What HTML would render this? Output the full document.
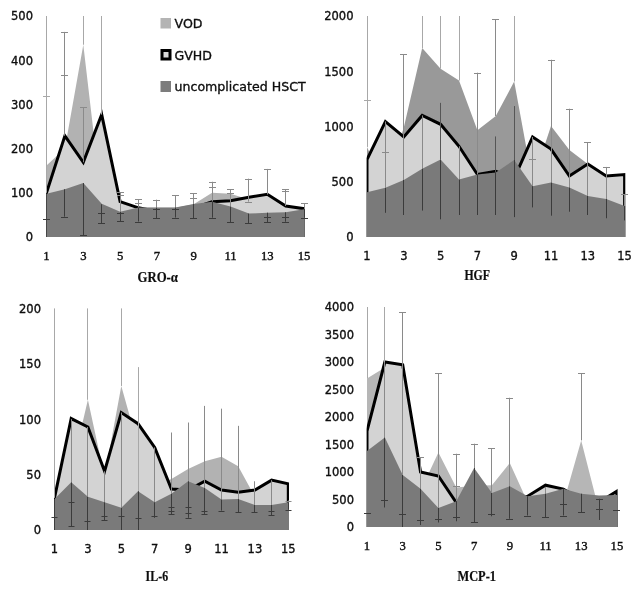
<!DOCTYPE html>
<html><head><meta charset="utf-8"><title>Cytokine charts</title>
<style>
html,body{margin:0;padding:0;background:#fff;}
svg{display:block;}
.t{font-family:"DejaVu Sans","Liberation Sans",sans-serif;font-size:11.5px;fill:#0a0a0a;stroke:#0a0a0a;stroke-width:0.3px;}
.ts{font-family:"Liberation Serif","DejaVu Serif",serif;font-size:12.7px;fill:#0a0a0a;stroke:#0a0a0a;stroke-width:0.35px;}
.lg{font-family:"DejaVu Sans","Liberation Sans",sans-serif;font-size:12.6px;fill:#0a0a0a;stroke:#0a0a0a;stroke-width:0.3px;}
.ti{font-family:"Liberation Serif","DejaVu Serif",serif;font-size:13.8px;font-weight:bold;fill:#111;stroke:#111;stroke-width:0.2px;}
</style></head><body>
<svg width="641" height="592" viewBox="0 0 641 592">
<defs><filter id="soft" x="0" y="0" width="100%" height="100%" filterUnits="userSpaceOnUse"><feGaussianBlur stdDeviation="0.45"/></filter></defs>
<rect width="641" height="592" fill="#fff"/>
<g filter="url(#soft)">
<g id="chart-gro"><path d="M46.5,237 L46.5,165.4 L64.9,148.6 L83.3,44.73 L101.7,201.64 L120.1,210.48 L138.5,207.83 L156.9,207.83 L175.3,207.83 L193.7,204.29 L212.1,192.8 L230.5,193.68 L248.9,199.43 L267.3,210.48 L285.7,212.69 L304.1,210.48 L304.1,237Z" fill="#b2b2b2" />
<path d="M46.5,237 L46.5,192.8 L64.9,135.78 L83.3,162.3 L101.7,114.57 L120.1,201.64 L138.5,207.83 L156.9,211.36 L175.3,211.36 L193.7,207.83 L212.1,201.64 L230.5,200.76 L248.9,197.22 L267.3,194.35 L285.7,206.06 L304.1,208.71 L304.1,237Z" fill="#d3d3d3" />
<clipPath id="clipgr"><rect x="46.1" y="0" width="258.7" height="237"/></clipPath>
<path d="M46.5,237 L46.5,192.8 L64.9,135.78 L83.3,162.3 L101.7,114.57 L120.1,201.64 L138.5,207.83 L156.9,211.36 L175.3,211.36 L193.7,207.83 L212.1,201.64 L230.5,200.76 L248.9,197.22 L267.3,194.35 L285.7,206.06 L304.1,208.71 L304.1,237Z" fill="none" stroke="#000" stroke-width="3" stroke-linejoin="miter" stroke-miterlimit="10" clip-path="url(#clipgr)"/>
<path d="M46.5,237 L46.5,193.68 L64.9,189.26 L83.3,183.08 L101.7,203.85 L120.1,211.81 L138.5,207.61 L156.9,207.61 L175.3,207.39 L193.7,204.07 L212.1,201.64 L230.5,206.5 L248.9,213.57 L267.3,212.69 L285.7,212.25 L304.1,209.15 L304.8,209.15 L304.8,237Z" fill="#7a7a7a" />
<line x1="46.5" y1="16" x2="46.5" y2="192.8" stroke="#a8a8a8" stroke-width="1"/>
<line x1="43" y1="96.5" x2="50" y2="96.5" stroke="#a8a8a8" stroke-width="1"/>
<line x1="43" y1="219.5" x2="50" y2="219.5" stroke="#3a3a3a" stroke-width="1"/>
<line x1="64.5" y1="31.91" x2="64.5" y2="135.78" stroke="#8a8a8a" stroke-width="1"/>
<line x1="61" y1="32.5" x2="68" y2="32.5" stroke="#8a8a8a" stroke-width="1"/>
<line x1="61" y1="75.5" x2="68" y2="75.5" stroke="#8a8a8a" stroke-width="1"/>
<line x1="64.5" y1="189.26" x2="64.5" y2="216.67" stroke="#3a3a3a" stroke-width="1"/>
<line x1="61" y1="217.5" x2="68" y2="217.5" stroke="#3a3a3a" stroke-width="1"/>
<line x1="83.5" y1="16" x2="83.5" y2="44.73" stroke="#a8a8a8" stroke-width="1"/>
<line x1="83.5" y1="107.49" x2="83.5" y2="162.3" stroke="#8a8a8a" stroke-width="1"/>
<line x1="80" y1="107.5" x2="87" y2="107.5" stroke="#8a8a8a" stroke-width="1"/>
<line x1="83.5" y1="183.08" x2="83.5" y2="235.23" stroke="#3a3a3a" stroke-width="1"/>
<line x1="80" y1="235.5" x2="87" y2="235.5" stroke="#3a3a3a" stroke-width="1"/>
<line x1="101.5" y1="16" x2="101.5" y2="114.57" stroke="#a8a8a8" stroke-width="1"/>
<line x1="101.5" y1="204.29" x2="101.5" y2="223.03" stroke="#3a3a3a" stroke-width="1"/>
<line x1="98" y1="213.5" x2="105" y2="213.5" stroke="#3a3a3a" stroke-width="1"/>
<line x1="98" y1="223.5" x2="105" y2="223.5" stroke="#3a3a3a" stroke-width="1"/>
<line x1="120.5" y1="192.36" x2="120.5" y2="211.81" stroke="#8a8a8a" stroke-width="1"/>
<line x1="120.5" y1="211.81" x2="120.5" y2="221.09" stroke="#3a3a3a" stroke-width="1"/>
<line x1="117" y1="192.5" x2="124" y2="192.5" stroke="#8a8a8a" stroke-width="1"/>
<line x1="117" y1="195.5" x2="124" y2="195.5" stroke="#8a8a8a" stroke-width="1"/>
<line x1="117" y1="213.5" x2="124" y2="213.5" stroke="#3a3a3a" stroke-width="1"/>
<line x1="117" y1="221.5" x2="124" y2="221.5" stroke="#3a3a3a" stroke-width="1"/>
<line x1="138.5" y1="199.43" x2="138.5" y2="207.61" stroke="#8a8a8a" stroke-width="1"/>
<line x1="138.5" y1="207.61" x2="138.5" y2="221.53" stroke="#3a3a3a" stroke-width="1"/>
<line x1="135" y1="199.5" x2="142" y2="199.5" stroke="#8a8a8a" stroke-width="1"/>
<line x1="135" y1="203.5" x2="142" y2="203.5" stroke="#8a8a8a" stroke-width="1"/>
<line x1="135" y1="222.5" x2="142" y2="222.5" stroke="#3a3a3a" stroke-width="1"/>
<line x1="156.5" y1="199.65" x2="156.5" y2="207.61" stroke="#8a8a8a" stroke-width="1"/>
<line x1="156.5" y1="207.61" x2="156.5" y2="217.99" stroke="#3a3a3a" stroke-width="1"/>
<line x1="153" y1="200.5" x2="160" y2="200.5" stroke="#8a8a8a" stroke-width="1"/>
<line x1="153" y1="209.5" x2="160" y2="209.5" stroke="#3a3a3a" stroke-width="1"/>
<line x1="153" y1="218.5" x2="160" y2="218.5" stroke="#3a3a3a" stroke-width="1"/>
<line x1="175.5" y1="195.01" x2="175.5" y2="207.39" stroke="#8a8a8a" stroke-width="1"/>
<line x1="175.5" y1="207.39" x2="175.5" y2="217.55" stroke="#3a3a3a" stroke-width="1"/>
<line x1="172" y1="195.5" x2="179" y2="195.5" stroke="#8a8a8a" stroke-width="1"/>
<line x1="172" y1="209.5" x2="179" y2="209.5" stroke="#3a3a3a" stroke-width="1"/>
<line x1="172" y1="218.5" x2="179" y2="218.5" stroke="#3a3a3a" stroke-width="1"/>
<line x1="193.5" y1="193.24" x2="193.5" y2="204.07" stroke="#8a8a8a" stroke-width="1"/>
<line x1="193.5" y1="204.07" x2="193.5" y2="218.44" stroke="#3a3a3a" stroke-width="1"/>
<line x1="190" y1="193.5" x2="197" y2="193.5" stroke="#8a8a8a" stroke-width="1"/>
<line x1="190" y1="198.5" x2="197" y2="198.5" stroke="#8a8a8a" stroke-width="1"/>
<line x1="190" y1="218.5" x2="197" y2="218.5" stroke="#3a3a3a" stroke-width="1"/>
<line x1="212.5" y1="181.75" x2="212.5" y2="201.64" stroke="#8a8a8a" stroke-width="1"/>
<line x1="212.5" y1="201.64" x2="212.5" y2="217.68" stroke="#3a3a3a" stroke-width="1"/>
<line x1="209" y1="182.5" x2="216" y2="182.5" stroke="#8a8a8a" stroke-width="1"/>
<line x1="209" y1="187.5" x2="216" y2="187.5" stroke="#8a8a8a" stroke-width="1"/>
<line x1="209" y1="218.5" x2="216" y2="218.5" stroke="#3a3a3a" stroke-width="1"/>
<line x1="230.5" y1="189.26" x2="230.5" y2="206.5" stroke="#8a8a8a" stroke-width="1"/>
<line x1="230.5" y1="206.5" x2="230.5" y2="222.41" stroke="#3a3a3a" stroke-width="1"/>
<line x1="227" y1="189.5" x2="234" y2="189.5" stroke="#8a8a8a" stroke-width="1"/>
<line x1="227" y1="193.5" x2="234" y2="193.5" stroke="#8a8a8a" stroke-width="1"/>
<line x1="227" y1="222.5" x2="234" y2="222.5" stroke="#3a3a3a" stroke-width="1"/>
<line x1="248.5" y1="178.66" x2="248.5" y2="201.64" stroke="#8a8a8a" stroke-width="1"/>
<line x1="245" y1="179.5" x2="252" y2="179.5" stroke="#8a8a8a" stroke-width="1"/>
<line x1="245" y1="202.5" x2="252" y2="202.5" stroke="#8a8a8a" stroke-width="1"/>
<line x1="248.5" y1="213.57" x2="248.5" y2="223.08" stroke="#3a3a3a" stroke-width="1"/>
<line x1="245" y1="223.5" x2="252" y2="223.5" stroke="#3a3a3a" stroke-width="1"/>
<line x1="267.5" y1="168.93" x2="267.5" y2="194.57" stroke="#8a8a8a" stroke-width="1"/>
<line x1="264" y1="169.5" x2="271" y2="169.5" stroke="#8a8a8a" stroke-width="1"/>
<line x1="267.5" y1="212.69" x2="267.5" y2="222.41" stroke="#3a3a3a" stroke-width="1"/>
<line x1="264" y1="217.5" x2="271" y2="217.5" stroke="#3a3a3a" stroke-width="1"/>
<line x1="264" y1="222.5" x2="271" y2="222.5" stroke="#3a3a3a" stroke-width="1"/>
<line x1="285.5" y1="189.26" x2="285.5" y2="206.06" stroke="#8a8a8a" stroke-width="1"/>
<line x1="282" y1="189.5" x2="289" y2="189.5" stroke="#8a8a8a" stroke-width="1"/>
<line x1="282" y1="191.5" x2="289" y2="191.5" stroke="#8a8a8a" stroke-width="1"/>
<line x1="285.5" y1="212.25" x2="285.5" y2="221.71" stroke="#3a3a3a" stroke-width="1"/>
<line x1="282" y1="217.5" x2="289" y2="217.5" stroke="#3a3a3a" stroke-width="1"/>
<line x1="282" y1="222.5" x2="289" y2="222.5" stroke="#3a3a3a" stroke-width="1"/>
<line x1="304.5" y1="203.41" x2="304.5" y2="209.15" stroke="#8a8a8a" stroke-width="1"/>
<line x1="304.5" y1="209.15" x2="304.5" y2="217.68" stroke="#3a3a3a" stroke-width="1"/>
<line x1="301" y1="203.5" x2="308" y2="203.5" stroke="#8a8a8a" stroke-width="1"/>
<line x1="301" y1="218.5" x2="308" y2="218.5" stroke="#3a3a3a" stroke-width="1"/>
<text x="33" y="241.3" text-anchor="end" class="t">0</text>
<text x="33" y="197.1" text-anchor="end" class="t">100</text>
<text x="33" y="152.9" text-anchor="end" class="t">200</text>
<text x="33" y="108.7" text-anchor="end" class="t">300</text>
<text x="33" y="64.5" text-anchor="end" class="t">400</text>
<text x="33" y="20.3" text-anchor="end" class="t">500</text>
<text x="46.5" y="260.3" text-anchor="middle" class="ts">1</text>
<text x="83.3" y="260.3" text-anchor="middle" class="ts">3</text>
<text x="120.1" y="260.3" text-anchor="middle" class="ts">5</text>
<text x="156.9" y="260.3" text-anchor="middle" class="ts">7</text>
<text x="193.7" y="260.3" text-anchor="middle" class="ts">9</text>
<text x="230.5" y="260.3" text-anchor="middle" class="ts">11</text>
<text x="267.3" y="260.3" text-anchor="middle" class="ts">13</text>
<text x="304.1" y="260.3" text-anchor="middle" class="ts">15</text>
<text x="137.5" y="282.3" textLength="40.5" lengthAdjust="spacingAndGlyphs" class="ti">GRO-α</text></g>
<g id="chart-hgf"><path d="M367,237 L367,146.94 L385.4,187.28 L403.8,127.61 L422.2,48.04 L440.6,68.71 L459,80.53 L477.4,130.37 L495.8,116 L514.2,81.53 L532.6,181.75 L551,125.95 L569.4,150.04 L587.8,164.07 L606.2,192.8 L624.6,209.38 L624.6,237Z" fill="#999999" />
<path d="M367,237 L367,159.65 L385.4,121.53 L403.8,137 L422.2,115.45 L440.6,124.29 L459,146.28 L477.4,174.46 L495.8,171.25 L514.2,178.44 L532.6,137 L551,149.04 L569.4,176 L587.8,164.07 L606.2,176 L624.6,174.57 L624.6,237Z" fill="#d3d3d3" />
<clipPath id="cliphg"><rect x="366.6" y="0" width="258.7" height="237"/></clipPath>
<path d="M367,237 L367,159.65 L385.4,121.53 L403.8,137 L422.2,115.45 L440.6,124.29 L459,146.28 L477.4,174.46 L495.8,171.25 L514.2,178.44 L532.6,137 L551,149.04 L569.4,176 L587.8,164.07 L606.2,176 L624.6,174.57 L624.6,237Z" fill="none" stroke="#000" stroke-width="3" stroke-linejoin="miter" stroke-miterlimit="10" clip-path="url(#cliphg)"/>
<path d="M367,237 L367,192.25 L385.4,187.83 L403.8,179.98 L422.2,168.71 L440.6,159.54 L459,179.54 L477.4,174.46 L495.8,172.47 L514.2,159.98 L532.6,186.17 L551,182.52 L569.4,187.5 L587.8,196 L606.2,198.99 L624.6,206.06 L625.3,206.06 L625.3,237Z" fill="#7a7a7a" />
<line x1="367.5" y1="16" x2="367.5" y2="146.94" stroke="#a8a8a8" stroke-width="1"/>
<line x1="364" y1="100.5" x2="371" y2="100.5" stroke="#a8a8a8" stroke-width="1"/>
<line x1="385.5" y1="121.53" x2="385.5" y2="187.83" stroke="#8a8a8a" stroke-width="1"/>
<line x1="385.5" y1="187.83" x2="385.5" y2="212.8" stroke="#3a3a3a" stroke-width="1"/>
<line x1="382" y1="152.5" x2="389" y2="152.5" stroke="#8a8a8a" stroke-width="1"/>
<line x1="403.5" y1="54.34" x2="403.5" y2="179.98" stroke="#8a8a8a" stroke-width="1"/>
<line x1="403.5" y1="179.98" x2="403.5" y2="215.01" stroke="#3a3a3a" stroke-width="1"/>
<line x1="400" y1="54.5" x2="407" y2="54.5" stroke="#8a8a8a" stroke-width="1"/>
<line x1="422.5" y1="16" x2="422.5" y2="48.04" stroke="#a8a8a8" stroke-width="1"/>
<line x1="422.5" y1="115.45" x2="422.5" y2="168.71" stroke="#8a8a8a" stroke-width="1"/>
<line x1="422.5" y1="168.71" x2="422.5" y2="210.59" stroke="#3a3a3a" stroke-width="1"/>
<line x1="440.5" y1="16" x2="440.5" y2="68.71" stroke="#a8a8a8" stroke-width="1"/>
<line x1="440.5" y1="102.85" x2="440.5" y2="159.54" stroke="#555" stroke-width="1"/>
<line x1="440.5" y1="159.54" x2="440.5" y2="219.32" stroke="#3a3a3a" stroke-width="1"/>
<line x1="459.5" y1="16" x2="459.5" y2="80.53" stroke="#a8a8a8" stroke-width="1"/>
<line x1="459.5" y1="146.28" x2="459.5" y2="179.54" stroke="#8a8a8a" stroke-width="1"/>
<line x1="459.5" y1="179.54" x2="459.5" y2="215.01" stroke="#3a3a3a" stroke-width="1"/>
<line x1="477.5" y1="72.69" x2="477.5" y2="174.46" stroke="#8a8a8a" stroke-width="1"/>
<line x1="477.5" y1="174.46" x2="477.5" y2="215.01" stroke="#3a3a3a" stroke-width="1"/>
<line x1="474" y1="73.5" x2="481" y2="73.5" stroke="#8a8a8a" stroke-width="1"/>
<line x1="495.5" y1="19.2" x2="495.5" y2="116" stroke="#8a8a8a" stroke-width="1"/>
<line x1="492" y1="19.5" x2="499" y2="19.5" stroke="#8a8a8a" stroke-width="1"/>
<line x1="495.5" y1="136.44" x2="495.5" y2="172.47" stroke="#555" stroke-width="1"/>
<line x1="495.5" y1="172.47" x2="495.5" y2="215.01" stroke="#3a3a3a" stroke-width="1"/>
<line x1="514.5" y1="16" x2="514.5" y2="81.53" stroke="#a8a8a8" stroke-width="1"/>
<line x1="514.5" y1="106.06" x2="514.5" y2="159.98" stroke="#555" stroke-width="1"/>
<line x1="514.5" y1="159.98" x2="514.5" y2="217.11" stroke="#3a3a3a" stroke-width="1"/>
<line x1="532.5" y1="137" x2="532.5" y2="186.17" stroke="#8a8a8a" stroke-width="1"/>
<line x1="532.5" y1="186.17" x2="532.5" y2="207.39" stroke="#3a3a3a" stroke-width="1"/>
<line x1="529" y1="159.5" x2="536" y2="159.5" stroke="#8a8a8a" stroke-width="1"/>
<line x1="551.5" y1="59.76" x2="551.5" y2="182.52" stroke="#8a8a8a" stroke-width="1"/>
<line x1="551.5" y1="182.52" x2="551.5" y2="215.67" stroke="#3a3a3a" stroke-width="1"/>
<line x1="548" y1="60.5" x2="555" y2="60.5" stroke="#8a8a8a" stroke-width="1"/>
<line x1="569.5" y1="108.71" x2="569.5" y2="187.5" stroke="#8a8a8a" stroke-width="1"/>
<line x1="569.5" y1="187.5" x2="569.5" y2="211.7" stroke="#3a3a3a" stroke-width="1"/>
<line x1="566" y1="109.5" x2="573" y2="109.5" stroke="#8a8a8a" stroke-width="1"/>
<line x1="587.5" y1="142.3" x2="587.5" y2="196" stroke="#8a8a8a" stroke-width="1"/>
<line x1="587.5" y1="196" x2="587.5" y2="215.01" stroke="#3a3a3a" stroke-width="1"/>
<line x1="584" y1="142.5" x2="591" y2="142.5" stroke="#8a8a8a" stroke-width="1"/>
<line x1="606.5" y1="166.94" x2="606.5" y2="198.99" stroke="#8a8a8a" stroke-width="1"/>
<line x1="606.5" y1="198.99" x2="606.5" y2="218.22" stroke="#3a3a3a" stroke-width="1"/>
<line x1="603" y1="167.5" x2="610" y2="167.5" stroke="#8a8a8a" stroke-width="1"/>
<line x1="624.5" y1="194.24" x2="624.5" y2="206.06" stroke="#8a8a8a" stroke-width="1"/>
<line x1="624.5" y1="206.06" x2="624.5" y2="220.43" stroke="#3a3a3a" stroke-width="1"/>
<line x1="621" y1="194.5" x2="628" y2="194.5" stroke="#8a8a8a" stroke-width="1"/>
<text x="353.5" y="241.3" text-anchor="end" class="t">0</text>
<text x="353.5" y="186.05" text-anchor="end" class="t">500</text>
<text x="353.5" y="130.8" text-anchor="end" class="t">1000</text>
<text x="353.5" y="75.55" text-anchor="end" class="t">1500</text>
<text x="353.5" y="20.3" text-anchor="end" class="t">2000</text>
<text x="367" y="260.3" text-anchor="middle" class="t">1</text>
<text x="403.8" y="260.3" text-anchor="middle" class="t">3</text>
<text x="440.6" y="260.3" text-anchor="middle" class="t">5</text>
<text x="477.4" y="260.3" text-anchor="middle" class="t">7</text>
<text x="514.2" y="260.3" text-anchor="middle" class="t">9</text>
<text x="551" y="260.3" text-anchor="middle" class="t">11</text>
<text x="587.8" y="260.3" text-anchor="middle" class="t">13</text>
<text x="624.6" y="260.3" text-anchor="middle" class="t">15</text>
<text x="464.4" y="279.6" textLength="25.6" lengthAdjust="spacingAndGlyphs" class="ti">HGF</text></g>
<g id="chart-il6"><path d="M54.5,530 L54.5,496.76 L71.2,471.28 L87.9,399.81 L104.6,476.82 L121.3,385.96 L138,445.79 L154.7,485.68 L171.4,479.03 L188.1,469.06 L204.8,461.3 L221.5,456.87 L238.2,466.29 L254.9,496.76 L271.6,502.3 L288.3,502.3 L288.3,530Z" fill="#b2b2b2" />
<path d="M54.5,530 L54.5,497.87 L71.2,418.54 L87.9,426.96 L104.6,471.28 L121.3,412.55 L138,423.63 L154.7,447.45 L171.4,489 L188.1,490.11 L204.8,481.25 L221.5,490.11 L238.2,492.33 L254.9,490.11 L271.6,480.14 L288.3,483.8 L288.3,530Z" fill="#d3d3d3" />
<clipPath id="clipil"><rect x="54.1" y="0" width="234.9" height="530"/></clipPath>
<path d="M54.5,530 L54.5,497.87 L71.2,418.54 L87.9,426.96 L104.6,471.28 L121.3,412.55 L138,423.63 L154.7,447.45 L171.4,489 L188.1,490.11 L204.8,481.25 L221.5,490.11 L238.2,492.33 L254.9,490.11 L271.6,480.14 L288.3,483.8 L288.3,530Z" fill="none" stroke="#000" stroke-width="3" stroke-linejoin="miter" stroke-miterlimit="10" clip-path="url(#clipil)"/>
<path d="M54.5,530 L54.5,498.98 L71.2,482.36 L87.9,496.76 L104.6,502.3 L121.3,507.84 L138,491.22 L154.7,502.3 L171.4,493.77 L188.1,481.25 L204.8,487.9 L221.5,499.53 L238.2,498.98 L254.9,505.07 L271.6,505.07 L288.3,502.3 L289,502.3 L289,530Z" fill="#7a7a7a" />
<line x1="54.5" y1="308.4" x2="54.5" y2="497.87" stroke="#a8a8a8" stroke-width="1"/>
<line x1="51.5" y1="517.5" x2="57.5" y2="517.5" stroke="#3a3a3a" stroke-width="1"/>
<line x1="71.5" y1="419.2" x2="71.5" y2="482.36" stroke="#8a8a8a" stroke-width="1"/>
<line x1="71.5" y1="482.36" x2="71.5" y2="526.01" stroke="#3a3a3a" stroke-width="1"/>
<line x1="68.5" y1="502.5" x2="74.5" y2="502.5" stroke="#3a3a3a" stroke-width="1"/>
<line x1="68.5" y1="526.5" x2="74.5" y2="526.5" stroke="#3a3a3a" stroke-width="1"/>
<line x1="87.5" y1="308.4" x2="87.5" y2="399.81" stroke="#a8a8a8" stroke-width="1"/>
<line x1="87.5" y1="426.96" x2="87.5" y2="496.76" stroke="#8a8a8a" stroke-width="1"/>
<line x1="87.5" y1="496.76" x2="87.5" y2="530" stroke="#3a3a3a" stroke-width="1"/>
<line x1="84.5" y1="521.5" x2="90.5" y2="521.5" stroke="#3a3a3a" stroke-width="1"/>
<line x1="104.5" y1="471.28" x2="104.5" y2="502.3" stroke="#8a8a8a" stroke-width="1"/>
<line x1="104.5" y1="502.3" x2="104.5" y2="520.03" stroke="#3a3a3a" stroke-width="1"/>
<line x1="101.5" y1="516.5" x2="107.5" y2="516.5" stroke="#3a3a3a" stroke-width="1"/>
<line x1="101.5" y1="520.5" x2="107.5" y2="520.5" stroke="#3a3a3a" stroke-width="1"/>
<line x1="121.5" y1="308.4" x2="121.5" y2="385.96" stroke="#a8a8a8" stroke-width="1"/>
<line x1="121.5" y1="412.55" x2="121.5" y2="507.84" stroke="#8a8a8a" stroke-width="1"/>
<line x1="121.5" y1="507.84" x2="121.5" y2="530" stroke="#3a3a3a" stroke-width="1"/>
<line x1="118.5" y1="516.5" x2="124.5" y2="516.5" stroke="#3a3a3a" stroke-width="1"/>
<line x1="138.5" y1="367.12" x2="138.5" y2="491.22" stroke="#a8a8a8" stroke-width="1"/>
<line x1="138.5" y1="491.22" x2="138.5" y2="530" stroke="#3a3a3a" stroke-width="1"/>
<line x1="135.5" y1="518.5" x2="141.5" y2="518.5" stroke="#3a3a3a" stroke-width="1"/>
<line x1="154.5" y1="447.45" x2="154.5" y2="502.3" stroke="#8a8a8a" stroke-width="1"/>
<line x1="154.5" y1="502.3" x2="154.5" y2="517.81" stroke="#3a3a3a" stroke-width="1"/>
<line x1="151.5" y1="516.5" x2="157.5" y2="516.5" stroke="#3a3a3a" stroke-width="1"/>
<line x1="171.5" y1="432.5" x2="171.5" y2="493.77" stroke="#8a8a8a" stroke-width="1"/>
<line x1="171.5" y1="493.77" x2="171.5" y2="514.49" stroke="#3a3a3a" stroke-width="1"/>
<line x1="168.5" y1="507.5" x2="174.5" y2="507.5" stroke="#3a3a3a" stroke-width="1"/>
<line x1="168.5" y1="511.5" x2="174.5" y2="511.5" stroke="#3a3a3a" stroke-width="1"/>
<line x1="168.5" y1="514.5" x2="174.5" y2="514.5" stroke="#3a3a3a" stroke-width="1"/>
<line x1="188.5" y1="422.52" x2="188.5" y2="481.25" stroke="#8a8a8a" stroke-width="1"/>
<line x1="188.5" y1="481.25" x2="188.5" y2="517.81" stroke="#3a3a3a" stroke-width="1"/>
<line x1="185.5" y1="507.5" x2="191.5" y2="507.5" stroke="#3a3a3a" stroke-width="1"/>
<line x1="185.5" y1="513.5" x2="191.5" y2="513.5" stroke="#3a3a3a" stroke-width="1"/>
<line x1="185.5" y1="518.5" x2="191.5" y2="518.5" stroke="#3a3a3a" stroke-width="1"/>
<line x1="204.5" y1="405.9" x2="204.5" y2="487.9" stroke="#8a8a8a" stroke-width="1"/>
<line x1="204.5" y1="487.9" x2="204.5" y2="513.93" stroke="#3a3a3a" stroke-width="1"/>
<line x1="201.5" y1="511.5" x2="207.5" y2="511.5" stroke="#3a3a3a" stroke-width="1"/>
<line x1="201.5" y1="514.5" x2="207.5" y2="514.5" stroke="#3a3a3a" stroke-width="1"/>
<line x1="221.5" y1="408.67" x2="221.5" y2="499.53" stroke="#8a8a8a" stroke-width="1"/>
<line x1="221.5" y1="499.53" x2="221.5" y2="510.61" stroke="#3a3a3a" stroke-width="1"/>
<line x1="218.5" y1="511.5" x2="224.5" y2="511.5" stroke="#3a3a3a" stroke-width="1"/>
<line x1="238.5" y1="425.85" x2="238.5" y2="498.98" stroke="#8a8a8a" stroke-width="1"/>
<line x1="238.5" y1="498.98" x2="238.5" y2="512.27" stroke="#3a3a3a" stroke-width="1"/>
<line x1="235.5" y1="512.5" x2="241.5" y2="512.5" stroke="#3a3a3a" stroke-width="1"/>
<line x1="254.5" y1="481.25" x2="254.5" y2="505.07" stroke="#8a8a8a" stroke-width="1"/>
<line x1="254.5" y1="505.07" x2="254.5" y2="512.27" stroke="#3a3a3a" stroke-width="1"/>
<line x1="251.5" y1="512.5" x2="257.5" y2="512.5" stroke="#3a3a3a" stroke-width="1"/>
<line x1="271.5" y1="480.14" x2="271.5" y2="505.07" stroke="#8a8a8a" stroke-width="1"/>
<line x1="271.5" y1="505.07" x2="271.5" y2="515.04" stroke="#3a3a3a" stroke-width="1"/>
<line x1="268.5" y1="511.5" x2="274.5" y2="511.5" stroke="#3a3a3a" stroke-width="1"/>
<line x1="268.5" y1="515.5" x2="274.5" y2="515.5" stroke="#3a3a3a" stroke-width="1"/>
<line x1="288.5" y1="500.53" x2="288.5" y2="502.3" stroke="#8a8a8a" stroke-width="1"/>
<line x1="288.5" y1="502.3" x2="288.5" y2="509.72" stroke="#3a3a3a" stroke-width="1"/>
<line x1="285.5" y1="501.5" x2="291.5" y2="501.5" stroke="#8a8a8a" stroke-width="1"/>
<line x1="285.5" y1="510.5" x2="291.5" y2="510.5" stroke="#3a3a3a" stroke-width="1"/>
<text x="41" y="534.3" text-anchor="end" class="t">0</text>
<text x="41" y="478.9" text-anchor="end" class="t">50</text>
<text x="41" y="423.5" text-anchor="end" class="t">100</text>
<text x="41" y="368.1" text-anchor="end" class="t">150</text>
<text x="41" y="312.7" text-anchor="end" class="t">200</text>
<text x="54.5" y="553.2" text-anchor="middle" class="t">1</text>
<text x="87.9" y="553.2" text-anchor="middle" class="t">3</text>
<text x="121.3" y="553.2" text-anchor="middle" class="t">5</text>
<text x="154.7" y="553.2" text-anchor="middle" class="t">7</text>
<text x="188.1" y="553.2" text-anchor="middle" class="t">9</text>
<text x="221.5" y="553.2" text-anchor="middle" class="t">11</text>
<text x="254.9" y="553.2" text-anchor="middle" class="t">13</text>
<text x="288.3" y="553.2" text-anchor="middle" class="t">15</text>
<text x="145.6" y="580.7" textLength="22.5" lengthAdjust="spacingAndGlyphs" class="ti">IL-6</text></g>
<g id="chart-mcp1"><path d="M367,527 L367,378.5 L384.85,367.5 L402.7,417 L420.55,490.7 L438.4,452.48 L456.25,487.51 L474.1,485.75 L491.95,485.2 L509.8,462.98 L527.65,502.25 L545.5,496.2 L563.35,503.35 L581.2,440.38 L599.05,510.5 L616.9,505 L616.9,527Z" fill="#b6b6b6" />
<path d="M367,527 L367,431.02 L384.85,362 L402.7,364.75 L420.55,472 L438.4,476.01 L456.25,502.52 L474.1,499.5 L491.95,499.5 L509.8,499.5 L527.65,496.2 L545.5,485.2 L563.35,489.05 L581.2,499.5 L599.05,502.25 L616.9,491.25 L616.9,527Z" fill="#d3d3d3" />
<clipPath id="clipmc"><rect x="366.6" y="0" width="251" height="527"/></clipPath>
<path d="M367,527 L367,431.02 L384.85,362 L402.7,364.75 L420.55,472 L438.4,476.01 L456.25,502.52 L474.1,499.5 L491.95,499.5 L509.8,499.5 L527.65,496.2 L545.5,485.2 L563.35,489.05 L581.2,499.5 L599.05,502.25 L616.9,491.25 L616.9,527Z" fill="none" stroke="#000" stroke-width="3" stroke-linejoin="miter" stroke-miterlimit="10" clip-path="url(#clipmc)"/>
<path d="M367,527 L367,451.1 L384.85,437.51 L402.7,475.02 L420.55,488.77 L438.4,508.02 L456.25,501.15 L474.1,467.99 L491.95,493.01 L509.8,486.3 L527.65,496.2 L545.5,493.73 L563.35,488.77 L581.2,493.73 L599.05,495.49 L616.9,495.1 L617.6,495.1 L617.6,527Z" fill="#7a7a7a" />
<line x1="367.5" y1="307" x2="367.5" y2="378.5" stroke="#a8a8a8" stroke-width="1"/>
<line x1="364" y1="513.5" x2="371" y2="513.5" stroke="#3a3a3a" stroke-width="1"/>
<line x1="384.5" y1="307" x2="384.5" y2="362" stroke="#a8a8a8" stroke-width="1"/>
<line x1="384.5" y1="362" x2="384.5" y2="437.51" stroke="#8a8a8a" stroke-width="1"/>
<line x1="384.5" y1="437.51" x2="384.5" y2="507.48" stroke="#3a3a3a" stroke-width="1"/>
<line x1="381" y1="500.5" x2="388" y2="500.5" stroke="#3a3a3a" stroke-width="1"/>
<line x1="402.5" y1="312.23" x2="402.5" y2="475.02" stroke="#8a8a8a" stroke-width="1"/>
<line x1="402.5" y1="475.02" x2="402.5" y2="527" stroke="#3a3a3a" stroke-width="1"/>
<line x1="399" y1="312.5" x2="406" y2="312.5" stroke="#8a8a8a" stroke-width="1"/>
<line x1="399" y1="514.5" x2="406" y2="514.5" stroke="#3a3a3a" stroke-width="1"/>
<line x1="420.5" y1="457.48" x2="420.5" y2="488.77" stroke="#8a8a8a" stroke-width="1"/>
<line x1="420.5" y1="488.77" x2="420.5" y2="525.02" stroke="#3a3a3a" stroke-width="1"/>
<line x1="417" y1="457.5" x2="424" y2="457.5" stroke="#8a8a8a" stroke-width="1"/>
<line x1="417" y1="520.5" x2="424" y2="520.5" stroke="#3a3a3a" stroke-width="1"/>
<line x1="438.5" y1="373" x2="438.5" y2="508.02" stroke="#8a8a8a" stroke-width="1"/>
<line x1="438.5" y1="508.02" x2="438.5" y2="522.49" stroke="#3a3a3a" stroke-width="1"/>
<line x1="435" y1="373.5" x2="442" y2="373.5" stroke="#8a8a8a" stroke-width="1"/>
<line x1="435" y1="519.5" x2="442" y2="519.5" stroke="#3a3a3a" stroke-width="1"/>
<line x1="456.5" y1="453.74" x2="456.5" y2="501.15" stroke="#8a8a8a" stroke-width="1"/>
<line x1="456.5" y1="501.15" x2="456.5" y2="521.23" stroke="#3a3a3a" stroke-width="1"/>
<line x1="453" y1="454.5" x2="460" y2="454.5" stroke="#8a8a8a" stroke-width="1"/>
<line x1="453" y1="486.5" x2="460" y2="486.5" stroke="#8a8a8a" stroke-width="1"/>
<line x1="453" y1="517.5" x2="460" y2="517.5" stroke="#3a3a3a" stroke-width="1"/>
<line x1="474.5" y1="443.73" x2="474.5" y2="467.99" stroke="#8a8a8a" stroke-width="1"/>
<line x1="474.5" y1="467.99" x2="474.5" y2="522.05" stroke="#3a3a3a" stroke-width="1"/>
<line x1="471" y1="444.5" x2="478" y2="444.5" stroke="#8a8a8a" stroke-width="1"/>
<line x1="471" y1="522.5" x2="478" y2="522.5" stroke="#3a3a3a" stroke-width="1"/>
<line x1="491.5" y1="448.35" x2="491.5" y2="493.01" stroke="#8a8a8a" stroke-width="1"/>
<line x1="491.5" y1="493.01" x2="491.5" y2="516.27" stroke="#3a3a3a" stroke-width="1"/>
<line x1="488" y1="448.5" x2="495" y2="448.5" stroke="#8a8a8a" stroke-width="1"/>
<line x1="488" y1="514.5" x2="495" y2="514.5" stroke="#3a3a3a" stroke-width="1"/>
<line x1="509.5" y1="397.75" x2="509.5" y2="486.3" stroke="#8a8a8a" stroke-width="1"/>
<line x1="509.5" y1="486.3" x2="509.5" y2="518.75" stroke="#3a3a3a" stroke-width="1"/>
<line x1="506" y1="398.5" x2="513" y2="398.5" stroke="#8a8a8a" stroke-width="1"/>
<line x1="506" y1="519.5" x2="513" y2="519.5" stroke="#3a3a3a" stroke-width="1"/>
<line x1="527.5" y1="496.2" x2="527.5" y2="515.5" stroke="#3a3a3a" stroke-width="1"/>
<line x1="524" y1="516.5" x2="531" y2="516.5" stroke="#3a3a3a" stroke-width="1"/>
<line x1="545.5" y1="486.85" x2="545.5" y2="493.73" stroke="#8a8a8a" stroke-width="1"/>
<line x1="545.5" y1="493.73" x2="545.5" y2="517.49" stroke="#3a3a3a" stroke-width="1"/>
<line x1="542" y1="517.5" x2="549" y2="517.5" stroke="#3a3a3a" stroke-width="1"/>
<line x1="563.5" y1="488.77" x2="563.5" y2="515.5" stroke="#3a3a3a" stroke-width="1"/>
<line x1="560" y1="504.5" x2="567" y2="504.5" stroke="#3a3a3a" stroke-width="1"/>
<line x1="560" y1="516.5" x2="567" y2="516.5" stroke="#3a3a3a" stroke-width="1"/>
<line x1="581.5" y1="373" x2="581.5" y2="440.38" stroke="#8a8a8a" stroke-width="1"/>
<line x1="578" y1="373.5" x2="585" y2="373.5" stroke="#8a8a8a" stroke-width="1"/>
<line x1="581.5" y1="493.73" x2="581.5" y2="511.99" stroke="#3a3a3a" stroke-width="1"/>
<line x1="578" y1="512.5" x2="585" y2="512.5" stroke="#3a3a3a" stroke-width="1"/>
<line x1="599.5" y1="498.73" x2="599.5" y2="520.01" stroke="#3a3a3a" stroke-width="1"/>
<line x1="596" y1="499.5" x2="603" y2="499.5" stroke="#3a3a3a" stroke-width="1"/>
<line x1="596" y1="509.5" x2="603" y2="509.5" stroke="#3a3a3a" stroke-width="1"/>
<line x1="613" y1="510.5" x2="620" y2="510.5" stroke="#3a3a3a" stroke-width="1"/>
<text x="354" y="531.3" text-anchor="end" class="t">0</text>
<text x="354" y="503.8" text-anchor="end" class="t">500</text>
<text x="354" y="476.3" text-anchor="end" class="t">1000</text>
<text x="354" y="448.8" text-anchor="end" class="t">1500</text>
<text x="354" y="421.3" text-anchor="end" class="t">2000</text>
<text x="354" y="393.8" text-anchor="end" class="t">2500</text>
<text x="354" y="366.3" text-anchor="end" class="t">3000</text>
<text x="354" y="338.8" text-anchor="end" class="t">3500</text>
<text x="354" y="311.3" text-anchor="end" class="t">4000</text>
<text x="367" y="550.3" text-anchor="middle" class="ts">1</text>
<text x="402.7" y="550.3" text-anchor="middle" class="ts">3</text>
<text x="438.4" y="550.3" text-anchor="middle" class="ts">5</text>
<text x="474.1" y="550.3" text-anchor="middle" class="ts">7</text>
<text x="509.8" y="550.3" text-anchor="middle" class="ts">9</text>
<text x="545.5" y="550.3" text-anchor="middle" class="ts">11</text>
<text x="581.2" y="550.3" text-anchor="middle" class="ts">13</text>
<text x="616.9" y="550.3" text-anchor="middle" class="ts">15</text>
<text x="457.5" y="580.7" textLength="38.5" lengthAdjust="spacingAndGlyphs" class="ti">MCP-1</text></g>
<g id="legend">
<rect x="160.5" y="18" width="10.5" height="10.5" fill="#b4b4b4"/>
<text x="174.5" y="28" class="lg">VOD</text>
<rect x="162" y="50.5" width="8" height="8.5" fill="#dcdcdc" stroke="#000" stroke-width="3"/>
<text x="174.5" y="59.5" class="lg">GVHD</text>
<rect x="160.5" y="81" width="10.5" height="11" fill="#7c7c7c"/>
<text x="174.5" y="91" class="lg">uncomplicated HSCT</text>
</g>
</g>
</svg>
</body></html>
